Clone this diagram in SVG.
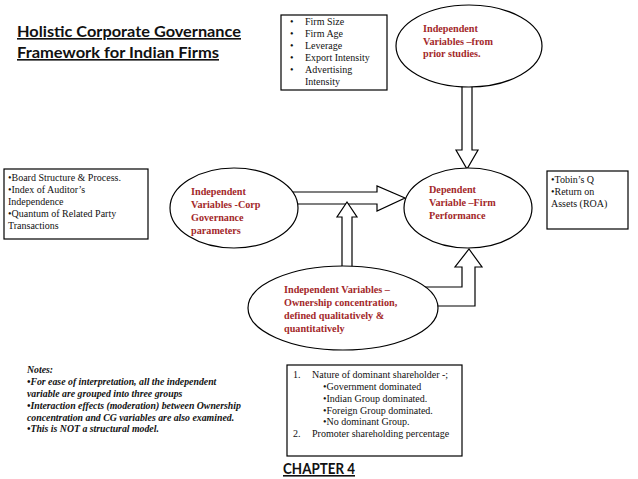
<svg xmlns="http://www.w3.org/2000/svg" width="638" height="479" viewBox="0 0 638 479">
<style>
.bg{fill:#ffffff}
.shape{fill:#ffffff;stroke:#000000;stroke-width:1.2}
.arrow{fill:#ffffff;stroke:#000000;stroke-width:1.2;stroke-linejoin:miter}
.t{font-family:"Liberation Serif","Times New Roman",serif;font-size:10px;fill:#111111}
.red{font-family:"Liberation Serif","Times New Roman",serif;font-size:10.2px;font-weight:bold;fill:#a3282a}
.note{font-family:"Liberation Serif","Times New Roman",serif;font-size:9.8px;font-weight:bold;font-style:italic;fill:#111111}
.title{font-family:Lato,"Open Sans",sans-serif;font-size:16px;font-weight:bold;fill:#111111;text-decoration:underline}
</style>
<rect class="bg" x="0" y="0" width="638" height="479"/>

<g id="title">
<text class="title" x="17" y="37" textLength="224" lengthAdjust="spacingAndGlyphs">Holistic Corporate Governance</text>
<text class="title" x="17" y="58" textLength="202" lengthAdjust="spacingAndGlyphs">Framework for Indian Firms</text>
</g>

<g id="connectors">
<polygon class="arrow" points="462,80 472,80 472,150 478,150 467,169 456,150 462,150"/>
<polygon class="arrow" points="290,192 377,192 377,186 405,198 377,211 377,204 290,204"/>
<polygon class="arrow" points="342,272 342,217 337,217 347,202 357,217 352,217 352,272"/>
<polygon class="arrow" points="420,287 462,287 462,267 455,267 469,249 482,267 475,267 475,306 420,306"/>
</g>

<g id="firm-vars-box">
<rect class="shape" x="281" y="15" width="106" height="75"/>
<text class="t"><tspan x="290" y="25">•</tspan><tspan x="305" y="25">Firm Size</tspan></text>
<text class="t"><tspan x="290" y="37">•</tspan><tspan x="305" y="37">Firm Age</tspan></text>
<text class="t"><tspan x="290" y="49">•</tspan><tspan x="305" y="49">Leverage</tspan></text>
<text class="t"><tspan x="290" y="61">•</tspan><tspan x="305" y="61">Export Intensity</tspan></text>
<text class="t"><tspan x="290" y="73">•</tspan><tspan x="305" y="73">Advertising</tspan></text>
<text class="t" x="305" y="85">Intensity</text>
</g>

<g id="prior-studies">
<ellipse class="shape" cx="469" cy="46" rx="73" ry="41"/>
<text class="red" x="423" y="32">Independent</text>
<text class="red" x="423" y="44.5">Variables –from</text>
<text class="red" x="423" y="57">prior studies.</text>
</g>

<g id="cg-box">
<rect class="shape" x="4" y="169" width="144" height="70"/>
<text class="t" x="8" y="181">•Board Structure &amp; Process.</text>
<text class="t" x="8" y="193">•Index of Auditor’s</text>
<text class="t" x="8" y="205">Independence</text>
<text class="t" x="8" y="217">•Quantum of Related Party</text>
<text class="t" x="8" y="229">Transactions</text>
</g>

<g id="cg-params">
<ellipse class="shape" cx="234" cy="208" rx="64" ry="40"/>
<text class="red" x="191" y="195">Independent</text>
<text class="red" x="191" y="208">Variables -Corp</text>
<text class="red" x="191" y="221">Governance</text>
<text class="red" x="191" y="234">parameters</text>
</g>

<g id="dependent">
<ellipse class="shape" cx="468" cy="208" rx="64" ry="40"/>
<text class="red" x="429" y="193">Dependent</text>
<text class="red" x="429" y="206">Variable –Firm</text>
<text class="red" x="429" y="219">Performance</text>
</g>

<g id="performance-box">
<rect class="shape" x="547" y="171" width="81" height="58"/>
<text class="t" x="551" y="183">•Tobin’s Q</text>
<text class="t" x="551" y="195">•Return on</text>
<text class="t" x="551" y="207">Assets (ROA)</text>
</g>

<g id="ownership">
<ellipse class="shape" cx="343" cy="308" rx="95" ry="42"/>
<text class="red" x="284" y="293">Independent Variables –</text>
<text class="red" x="284" y="306">Ownership concentration,</text>
<text class="red" x="284" y="319">defined qualitatively &amp;</text>
<text class="red" x="284" y="332">quantitatively</text>
</g>

<g id="notes">
<text class="note" x="27" y="373">Notes:</text>
<text class="note" x="27" y="385">•For ease of interpretation, all the independent</text>
<text class="note" x="27" y="397">variable are grouped into three groups</text>
<text class="note" x="27" y="409">•Interaction effects (moderation) between Ownership</text>
<text class="note" x="27" y="421">concentration and CG variables are also examined.</text>
<text class="note" x="27" y="432">•This is NOT a structural model.</text>
</g>

<g id="ownership-box">
<rect class="shape" x="287" y="365" width="175" height="91"/>
<text class="t"><tspan x="293" y="378">1.</tspan><tspan x="312" y="378">Nature of dominant shareholder -;</tspan></text>
<text class="t" x="323" y="390">•Government dominated</text>
<text class="t" x="323" y="402">•Indian Group dominated.</text>
<text class="t" x="323" y="414">•Foreign Group dominated.</text>
<text class="t" x="323" y="425">•No dominant Group.</text>
<text class="t"><tspan x="293" y="437">2.</tspan><tspan x="312" y="437">Promoter shareholding percentage</tspan></text>
</g>

<g id="chapter">
<text class="title" x="283" y="474" font-size="15" textLength="72" lengthAdjust="spacingAndGlyphs">CHAPTER 4</text>
</g>
</svg>
